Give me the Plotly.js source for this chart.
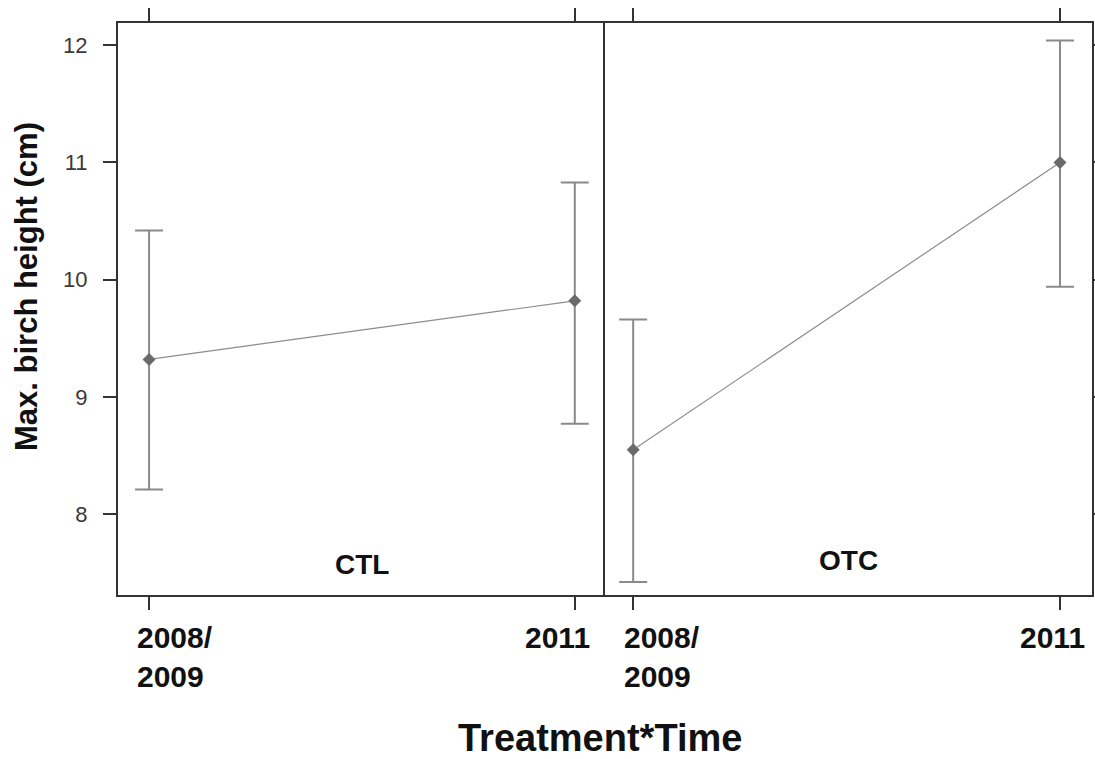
<!DOCTYPE html>
<html>
<head>
<meta charset="utf-8">
<script src="https://cdn.plot.ly/plotly-3.0.1.min.js"></script>
<style>html,body{margin:0;padding:0;background:#fff;}#chart{width:1095px;height:759px;}</style>
</head>
<body>
<div id="chart"></div>
<script>
// ---- data ----
const categories = ["2008/2009", "2011"];
const tickLabels = ["2008/<br>2009", "2011"];
const panels = ["CTL", "OTC"];
const ctlMean  = [9.32, 9.82];
const ctlUpper = [10.42, 10.83];
const ctlLower = [8.21, 8.77];
const otcMean  = [8.55, 11.00];
const otcUpper = [9.66, 12.04];
const otcLower = [7.42, 9.94];
const yTicks = [8, 9, 10, 11, 12];

function makeTrace(mean, upper, lower, xa, ya) {
  return {
    type: "scatter", mode: "lines+markers",
    x: categories, y: mean, xaxis: xa, yaxis: ya,
    line: {color: "#8c8c8c", width: 1.2},
    marker: {symbol: "diamond", size: 10, color: "#6a6a6a"},
    error_y: {
      type: "data", symmetric: false,
      array: upper.map((u, i) => u - mean[i]),
      arrayminus: mean.map((m, i) => m - lower[i]),
      color: "#8a8a8a", thickness: 2, width: 14
    },
    showlegend: false, hoverinfo: "skip"
  };
}

const data = [
  makeTrace(ctlMean, ctlUpper, ctlLower, "x", "y"),
  makeTrace(otcMean, otcUpper, otcLower, "x2", "y2")
];

const axLine = "#333333";
const tickFont = {family: "Liberation Sans, Arial, sans-serif", size: 22, color: "#3a3a3a"};
const boldFont = (s) => ({family: "Liberation Sans, Arial, sans-serif", size: s, color: "#111111", weight: "bold"});

const xBase = {
  type: "category", categoryorder: "array", categoryarray: categories,
  showgrid: false, zeroline: false, showline: true, linecolor: axLine, linewidth: 2,
  mirror: "ticks", ticks: "outside", ticklen: 13, tickwidth: 2, tickcolor: axLine,
  showticklabels: false, fixedrange: true
};
const yBase = {
  range: [7.31, 12.19], tickvals: yTicks, ticktext: yTicks.map(String),
  showgrid: false, zeroline: false, showline: true, linecolor: axLine, linewidth: 2,
  ticks: "outside", ticklen: 13, tickwidth: 2, tickcolor: axLine, tickfont: tickFont,
  ticklabelstandoff: 11, fixedrange: true
};

const annotations = [];
// x tick labels (placed per panel, per category index)
const tickShift = [[-14, 17], [-11, 27]];
["x", "x2"].forEach((xa, p) => {
  categories.forEach((c, i) => {
    annotations.push({
      xref: xa, yref: "paper", x: i, y: 0, yanchor: "top", yshift: -24,
      xanchor: i === 0 ? "left" : "right", xshift: tickShift[p][i],
      text: "<b>" + tickLabels[i] + "</b>", align: "left", showarrow: false,
      font: boldFont(30)
    });
  });
  annotations.push({
    xref: xa + " domain", yref: "paper", x: 0.5, y: p === 0 ? 0.054 : 0.06, yanchor: "middle",
    xanchor: "center", text: "<b>" + panels[p] + "</b>", showarrow: false,
    font: boldFont(28)
  });
});
annotations.push({
  xref: "paper", yref: "paper", x: 0.5, y: 0, yanchor: "middle", yshift: -143, xshift: -5,
  text: "<b>Treatment*Time</b>", showarrow: false, font: boldFont(38)
});
annotations.push({
  xref: "paper", yref: "paper", x: 0, y: 0.5, xanchor: "center", yanchor: "middle",
  xshift: -92, yshift: 22, textangle: -90,
  text: "<b>Max. birch height (cm)</b>", showarrow: false, font: boldFont(31)
});

const layout = {
  width: 1095, height: 759,
  margin: {l: 118, r: 3, t: 23, b: 164},
  paper_bgcolor: "#ffffff", plot_bgcolor: "#ffffff",
  xaxis: Object.assign({}, xBase, {domain: [0, 0.5], range: [-0.073, 1.071], anchor: "y"}),
  xaxis2: Object.assign({}, xBase, {domain: [0.5, 1], range: [-0.066, 1.075], anchor: "y2"}),
  yaxis: Object.assign({}, yBase, {anchor: "x", side: "left"}),
  yaxis2: Object.assign({}, yBase, {anchor: "x2", side: "right", mirror: true, showticklabels: false, matches: "y"}),
  annotations: annotations
};

Plotly.newPlot("chart", data, layout, {staticPlot: true, displayModeBar: false});
</script>
</body>
</html>
